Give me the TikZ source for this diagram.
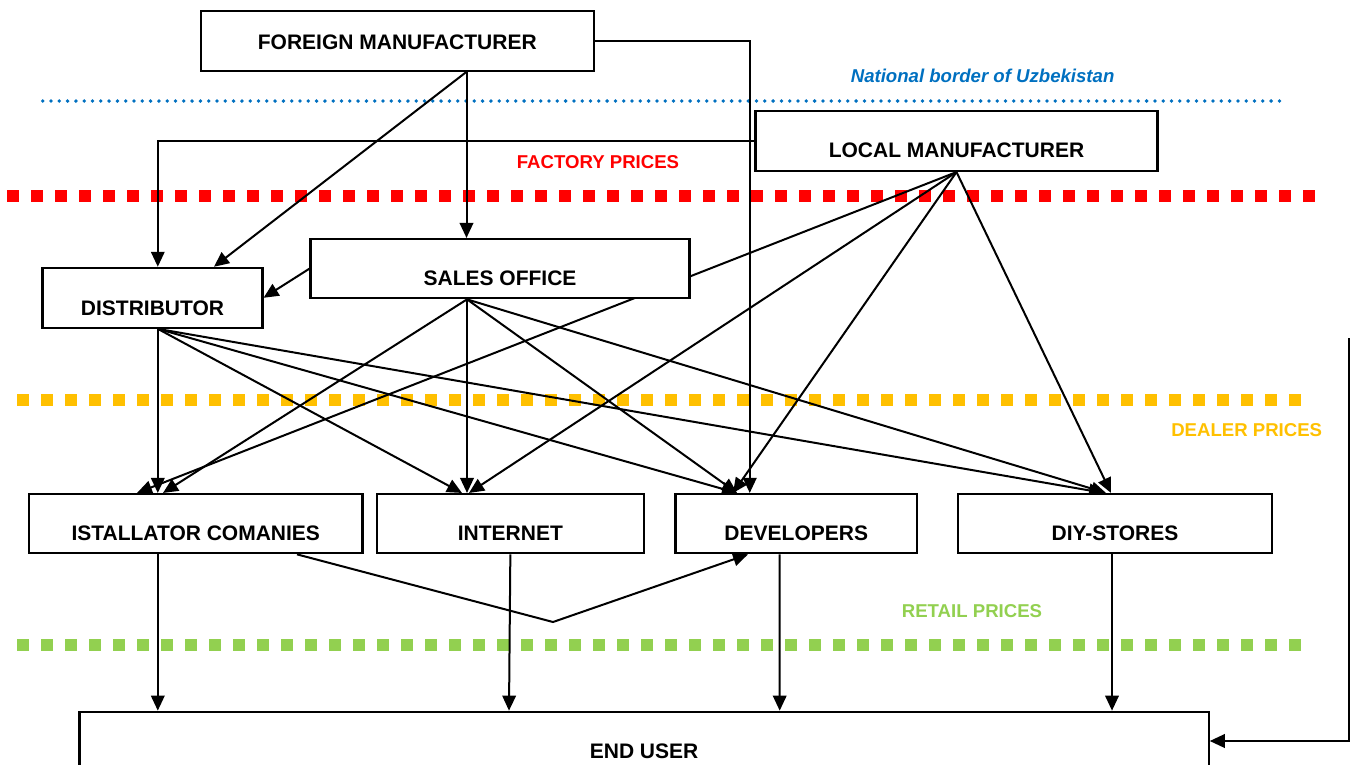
\documentclass[tikz,border=0pt]{standalone}
\usepackage{fontspec}
\setmainfont{Liberation Sans}
\usetikzlibrary{arrows.meta}
\definecolor{borderblue}{HTML}{0070C0}
\definecolor{factoryred}{HTML}{FF0000}
\definecolor{dealeramber}{HTML}{FFC000}
\definecolor{retailgreen}{HTML}{92D050}
\pgfdeclarelayer{guides}
\pgfdeclarelayer{links}
\pgfsetlayers{guides,links,main}

\begin{document}
\begin{tikzpicture}[x=1pt,y=-1pt,
  box/.style={draw=black, fill=white, line width=2.1pt, inner sep=0pt, rectangle},
  boxtext/.style={font=\fontsize{21}{25}\selectfont\bfseries, inner sep=0pt},
  pricetext/.style={font=\fontsize{18.6}{22}\selectfont\bfseries, inner sep=0pt},
  link/.style={line width=2pt, -{Triangle[length=15pt,width=13.5pt]}},
  squares/.style={line width=12pt, dash pattern=on 12pt off 12pt},
]
\useasboundingbox (0,0) rectangle (1355,764);

% ---------- boxes ----------
\node[box, minimum width=393, minimum height=60,
      label={[boxtext,yshift=-1.7pt]center:FOREIGN MANUFACTURER}] (fm) at (397.3,40.8) {};
\node[box, minimum width=402, minimum height=60,
      label={[boxtext,yshift=-9pt]center:LOCAL MANUFACTURER}] (lm) at (956.5,141) {};
\node[box, minimum width=379, minimum height=59.3,
      label={[boxtext,yshift=-9.35pt]center:SALES OFFICE}] (so) at (500,268.65) {};
\node[box, minimum width=220, minimum height=60,
      label={[boxtext,yshift=-10pt]center:DISTRIBUTOR}] (dist) at (152.5,297.8) {};
\node[box, minimum width=333.5, minimum height=59.3,
      label={[boxtext,yshift=-9.65pt]center:ISTALLATOR COMANIES}] (ic) at (195.75,523.65) {};
\node[box, minimum width=266.7, minimum height=59.3,
      label={[boxtext,yshift=-9.65pt]center:INTERNET}] (inet) at (510.35,523.65) {};
\node[box, minimum width=241.5, minimum height=59.3,
      label={[boxtext,yshift=-9.65pt]center:DEVELOPERS}] (dev) at (796.25,523.65) {};
\node[box, minimum width=314, minimum height=59.3,
      label={[boxtext,yshift=-9.65pt]center:DIY-STORES}] (diy) at (1115,523.65) {};
\node[box, minimum width=1129.2, minimum height=58.6,
      label={[boxtext,yshift=-10.5pt]center:END USER}] (eu) at (644.1,741) {};

% ---------- price levels and border ----------
\node[pricetext, font=\fontsize{18.6}{22}\selectfont\bfseries\itshape, text=borderblue] (border) at (982.6,76) {National border of Uzbekistan};
\node[pricetext, text=factoryred] (factory) at (598,161.7) {FACTORY PRICES};
\node[pricetext, text=dealeramber] (dealer) at (1246.7,430.3) {DEALER PRICES};
\node[pricetext, text=retailgreen] (retail) at (972,611) {RETAIL PRICES};

\begin{pgfonlayer}{guides}
  \draw[borderblue, line width=3.8pt, line cap=round, dash pattern=on 0pt off 8.3pt] (42.7,101) -- (1285,101);
  \draw[factoryred, squares] (7.3,196) -- (1315.3,196);
  \draw[dealeramber, squares] (17,400) -- (1301,400);
  \draw[retailgreen, squares] (17,645) -- (1301,645);
\end{pgfonlayer}

% ---------- flows ----------
\begin{pgfonlayer}{links}
  % foreign manufacturer
  \draw[link] ([xshift=69.2pt]fm.south) -- ([xshift=-33.5pt]so.north);
  \draw[link] ([xshift=69.2pt]fm.south) -- ([xshift=61.5pt]dist.north);
  \draw[link] (fm.east) -| ([xshift=-46.5pt]dev.north);
  % local manufacturer
  \draw[link] (lm.west) -| ([xshift=5.3pt]dist.north);
  \draw[link] (lm.south) -- ([xshift=-58.75pt]ic.north);
  \draw[link] (lm.south) -- ([xshift=-41.35pt]inet.north);
  \draw[link] (lm.south) -- ([xshift=-63.25pt]dev.north);
  \draw[link] (lm.south) -- ([xshift=-4pt]diy.north);
  % sales office
  \draw[link] (so.west) -- (dist.east);
  \draw[link] ([xshift=-33pt]so.south) -- ([xshift=-32.75pt]ic.north);
  \draw[link] ([xshift=-33pt]so.south) -- ([xshift=-43.35pt]inet.north);
  \draw[link] ([xshift=-33pt]so.south) -- ([xshift=-59.25pt]dev.north);
  \draw[link] ([xshift=-33pt]so.south) -- ([xshift=-9pt]diy.north);
  % distributor
  \draw[link] ([xshift=5.3pt]dist.south) -- ([xshift=-37.95pt]ic.north);
  \draw[link] ([xshift=5.3pt]dist.south) -- ([xshift=-48.35pt]inet.north);
  \draw[link] ([xshift=5.3pt]dist.south) -- ([xshift=-59.25pt]dev.north);
  \draw[link] ([xshift=5.3pt]dist.south) -- ([xshift=-11pt]diy.north);
  % retail channels to the end user
  \draw[link] ([xshift=-37.95pt]ic.south) -- ([xshift=-486.3pt]eu.north);
  \draw[link] (inet.south) -- ([xshift=-135.1pt]eu.north);
  \draw[link] ([xshift=-16.55pt]dev.south) -- ([xshift=135.6pt]eu.north);
  \draw[link] ([xshift=-3pt]diy.south) -- ([xshift=467.9pt]eu.north);
  \coordinate (detour) at (553,622);
  \draw[link] ([xshift=101.25pt]ic.south) -- (detour) -- ([xshift=-48.25pt]dev.south);
  \coordinate (feedback) at (1349,338);
  \draw[link] (feedback) |- (eu.east);
\end{pgfonlayer}
\end{tikzpicture}
\end{document}
